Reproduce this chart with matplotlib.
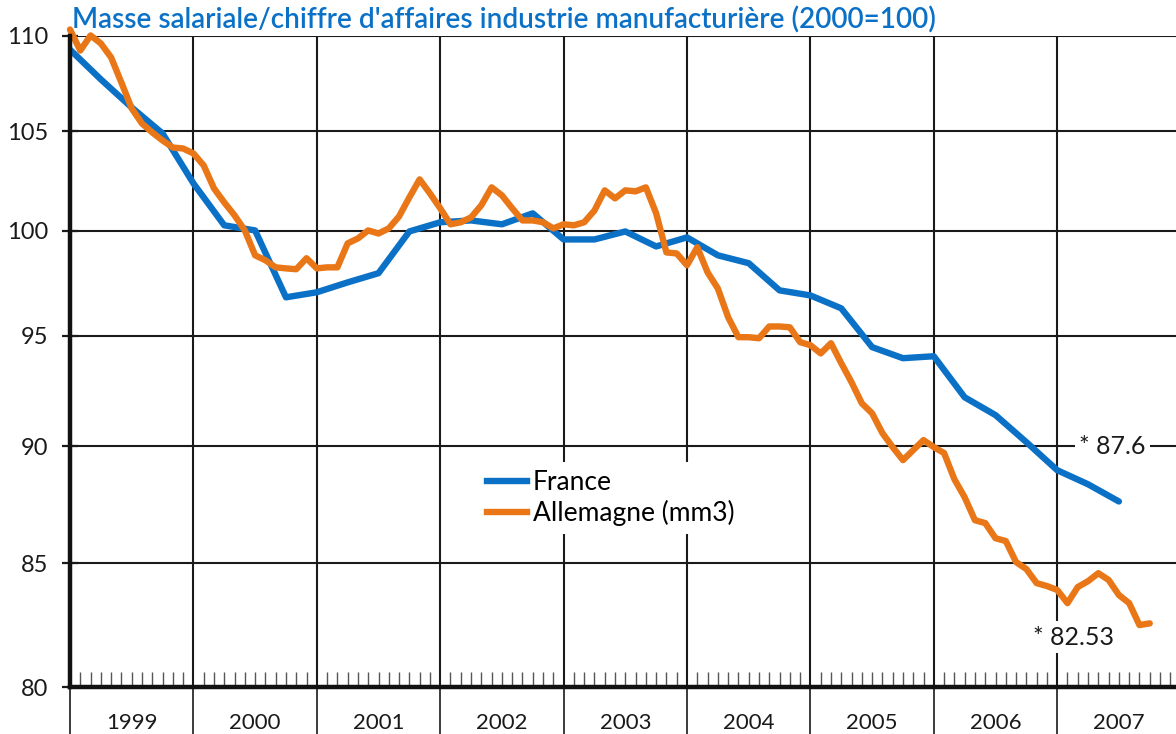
import matplotlib
matplotlib.use("Agg")
import matplotlib.pyplot as plt
import numpy as np
import matplotlib.transforms as mtransforms
from matplotlib.ticker import FixedLocator, FixedFormatter, NullLocator
from matplotlib.lines import Line2D

plt.rcParams['font.family'] = ['Lato', 'DejaVu Sans']

title = "Masse salariale/chiffre d'affaires industrie manufacturière (2000=100)"
years = [1999, 2000, 2001, 2002, 2003, 2004, 2005, 2006, 2007]
year_labels = ["1999", "2000", "2001", "2002", "2003", "2004", "2005", "2006", "2007"]
y_ticks = [80, 85, 90, 95, 100, 105, 110]
y_tick_labels = ["80", "85", "90", "95", "100", "105", "110"]

# France: quarterly, from 1999Q1
france = [109.27, 107.69, 106.22, 104.88, 102.35, 100.27, 100.02, 96.80,
          97.04, 97.51, 97.95, 99.97, 100.42, 100.51, 100.32, 100.86,
          99.58, 99.58, 99.97, 99.24, 99.68, 98.81, 98.43, 97.13,
          96.89, 96.28, 94.47, 93.96, 94.05, 92.18, 91.38, 90.18,
          88.95, 88.34, 87.60]

# Allemagne (mm3): monthly, from January 1999
allemagne = [110.35, 109.22, 110.03, 109.60, 108.85, 107.52, 106.17, 105.39,
             104.93, 104.52, 104.16, 104.11, 103.86, 103.25, 102.10, 101.40,
             100.76, 100.02, 98.81, 98.57, 98.23, 98.18, 98.14, 98.67,
             98.18, 98.23, 98.23, 99.39, 99.63, 100.02, 99.87, 100.12,
             100.71, 101.65, 102.55, 101.85, 101.11, 100.32, 100.42, 100.66,
             101.26, 102.15, 101.75, 101.11, 100.51, 100.51, 100.42, 100.12,
             100.32, 100.27, 100.42, 101.00, 102.00, 101.60, 102.00, 101.95,
             102.15, 100.86, 98.95, 98.90, 98.33, 99.20, 97.99, 97.22,
             95.86, 94.93, 94.93, 94.88, 95.43, 95.43, 95.39, 94.70,
             94.56, 94.18, 94.65, 93.73, 92.86, 91.91, 91.46, 90.58,
             89.96, 89.39, 89.83, 90.27, 89.96, 89.70, 88.56, 87.78,
             86.80, 86.68, 86.04, 85.92, 85.04, 84.75, 84.17, 84.05,
             83.89, 83.35, 84.01, 84.25, 84.58, 84.30, 83.68, 83.35,
             82.46, 82.53]

label_france = "France"
label_allemagne = "Allemagne (mm3)"
note_france = "* 87.6"
note_allemagne = "* 82.53"

blue = "#0B71C6"
orange = "#E97718"

W, H = 1176, 734
fig = plt.figure(figsize=(W / 100, H / 100), dpi=100)
year_px = 123.4
ax = fig.add_axes([70 / W, 47 / H, 9 * year_px / W, 651 / H])

france_x = years[0] + np.arange(len(france)) / 4.0
allem_x = years[0] + np.arange(len(allemagne)) / 12.0

ax.plot(france_x, france, color=blue, lw=4.6, zorder=3, solid_capstyle='round')
ax.plot(allem_x, allemagne, color=orange, lw=4.6, zorder=4, solid_capstyle='round',
        clip_on=False)

ax.set_yscale('log')
ax.set_ylim(80, 110)
ax.set_xlim(1999, 2008)

ax.yaxis.set_major_locator(FixedLocator(y_ticks))
ax.yaxis.set_major_formatter(FixedFormatter(y_tick_labels))
ax.yaxis.set_minor_locator(NullLocator())

bounds = years + [years[-1] + 1]
ax.xaxis.set_major_locator(FixedLocator(bounds))
ax.xaxis.set_major_formatter(FixedFormatter([""] * len(bounds)))
months = [y + m / 12.0 for y in years for m in range(1, 12)]
ax.xaxis.set_minor_locator(FixedLocator(months))

ax.grid(axis='both', which='major', color='#1a1a1a', lw=1.5, zorder=1)
ax.set_axisbelow(True)

ax.tick_params(axis='y', which='major', direction='inout', length=11.5, width=1.6,
               labelsize=17, pad=10, colors='#1a1a1a')
ax.tick_params(axis='x', which='major', direction='out', length=34, width=1.2,
               color='#1a1a1a')
ax.tick_params(axis='x', which='minor', direction='in', length=11, width=1.0,
               color='#555555')

for s in ['top', 'right']:
    ax.spines[s].set_visible(False)
for s in ['left', 'bottom']:
    ax.spines[s].set_linewidth(3.2)
    ax.spines[s].set_color('#111111')
    ax.spines[s].set_zorder(5)

trans = mtransforms.blended_transform_factory(ax.transData, ax.transAxes)
for y, lab in zip(years, year_labels):
    ax.text(y + 0.5, -36 / 651, lab, transform=trans, ha='center', va='center',
            fontsize=16, color='#1a1a1a', clip_on=False)

fig.text(72 / W, 1 - 20 / H, title, color=blue, fontsize=20.1, fontweight='semibold',
         ha='left', va='center')

handles = [Line2D([], [], color=blue, lw=4.6), Line2D([], [], color=orange, lw=4.6)]
leg = ax.legend(handles, [label_france, label_allemagne], loc='upper left',
                bbox_to_anchor=(479 / W, 1 - 462 / H), bbox_transform=fig.transFigure,
                frameon=True, fancybox=False, framealpha=1, edgecolor='none',
                facecolor='white', fontsize=19, handlelength=1.5, handletextpad=0.25,
                labelspacing=0.2, borderpad=0.3, borderaxespad=0)
leg.set_zorder(6)

ax.text(2007.45, 90, note_france, ha='center', va='center', fontsize=18,
        color='#1a1a1a', zorder=6,
        bbox=dict(facecolor='white', edgecolor='none', pad=3))
ax.text(2007.13, 81.98, note_allemagne, ha='center', va='center', fontsize=18,
        color='#1a1a1a', zorder=6,
        bbox=dict(facecolor='white', edgecolor='none', pad=3))

fig.savefig("out.png", dpi=100)
